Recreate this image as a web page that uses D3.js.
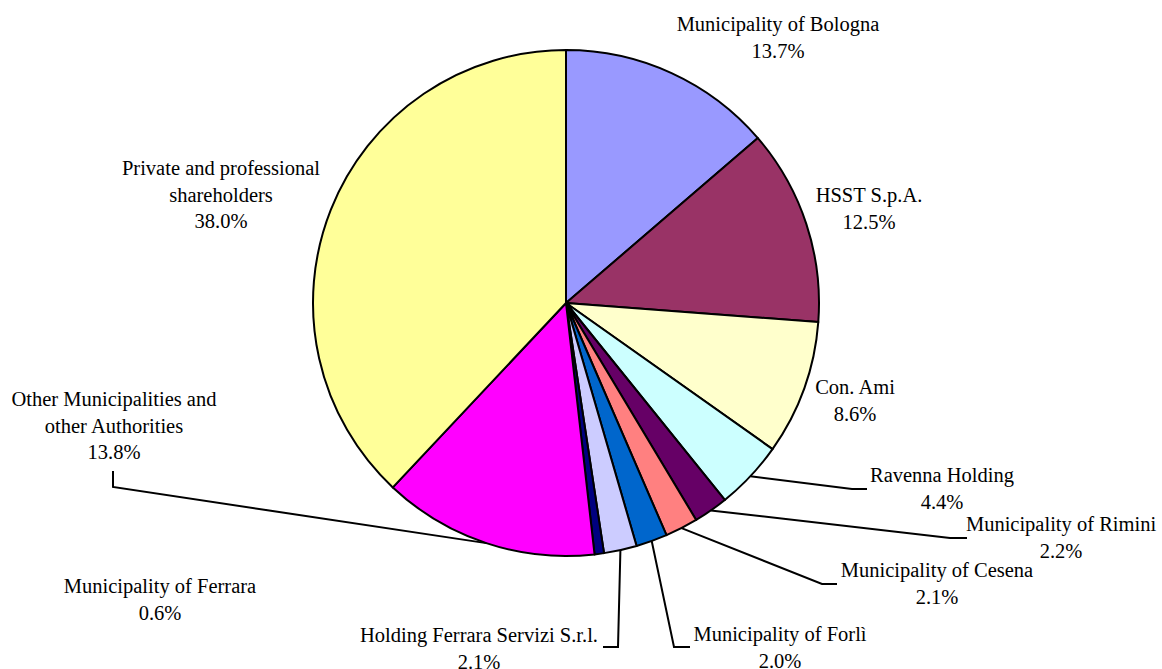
<!DOCTYPE html>
<html><head><meta charset="utf-8">
<script src="https://cdn.jsdelivr.net/npm/d3@7"></script>
<style>body{margin:0;background:#fff}svg{display:block}</style>
</head><body>
<svg id="c" width="1162" height="669"></svg>
<script>
const categories = ["Municipality of Bologna","HSST S.p.A.","Con. Ami","Ravenna Holding","Municipality of Rimini","Municipality of Cesena","Municipality of Forlì","Holding Ferrara Servizi S.r.l.","Municipality of Ferrara","Other Municipalities and other Authorities","Private and professional shareholders"];
const values = [13.7,12.5,8.6,4.4,2.2,2.1,2.0,2.1,0.6,13.8,38.0];
const colors = ["#9999FF","#993366","#FFFFCC","#CCFFFF","#660066","#FF8080","#0066CC","#CCCCFF","#000080","#FF00FF","#FFFF99"];
const labelLines = [["Municipality of Bologna"],["HSST S.p.A."],["Con. Ami"],["Ravenna Holding"],["Municipality of Rimini"],["Municipality of Cesena"],["Municipality of Forlì"],["Holding Ferrara Servizi S.r.l."],["Municipality of Ferrara"],["Other Municipalities and","other Authorities"],["Private and professional","shareholders"]];

// layout: label centre x, first baseline y, leader knee points
const layout = [
 {x:778,y:31},
 {x:869,y:202},
 {x:855,y:394},
 {x:942,y:482, knee:[[852,489],[867,489]]},
 {x:1061,y:531, knee:[[950,538],[967,538]]},
 {x:937,y:577, knee:[[822,584],[837,584]]},
 {x:780,y:641, knee:[[674,647],[690,647]]},
 {x:479,y:642, knee:[[618,647],[603,647]]},
 {x:160,y:593},
 {x:114,y:406, knee:[[113,487],[113,471]]},
 {x:221,y:175}
];

const svg = d3.select("#c");
const cx=566, cy=303, R=253;
const g = svg.append("g").attr("transform",`translate(${cx},${cy})`);
const pie = d3.pie().sort(null).value(d=>d)(values);
const arc = d3.arc().innerRadius(0).outerRadius(R);
g.selectAll("path.s").data(pie).join("path").attr("class","s")
 .attr("d",arc).attr("fill",(d,i)=>colors[i]).attr("stroke","#000").attr("stroke-width",2).attr("stroke-linejoin","round");

pie.forEach((d,i)=>{
  const L=layout[i]; if(!L.knee) return;
  const a=(d.startAngle+d.endAngle)/2;
  const p0=[cx+R*Math.sin(a), cy-R*Math.cos(a)];
  svg.append("path").attr("d",d3.line()([p0,...L.knee])).attr("fill","none").attr("stroke","#000").attr("stroke-width",2);
});

const lh=26.5;
pie.forEach((d,i)=>{
  const L=layout[i];
  const t=svg.append("text").attr("text-anchor","middle")
    .attr("font-family","'Liberation Serif', 'Times New Roman', Times, 'DejaVu Serif', serif")
    .attr("font-size",20.5).attr("fill","#000");
  const lines=[...labelLines[i], d3.format(".1f")(values[i])+"%"];
  lines.forEach((s,j)=>t.append("tspan").attr("x",L.x).attr("y",L.y+j*lh).text(s));
});
</script>
</body></html>
